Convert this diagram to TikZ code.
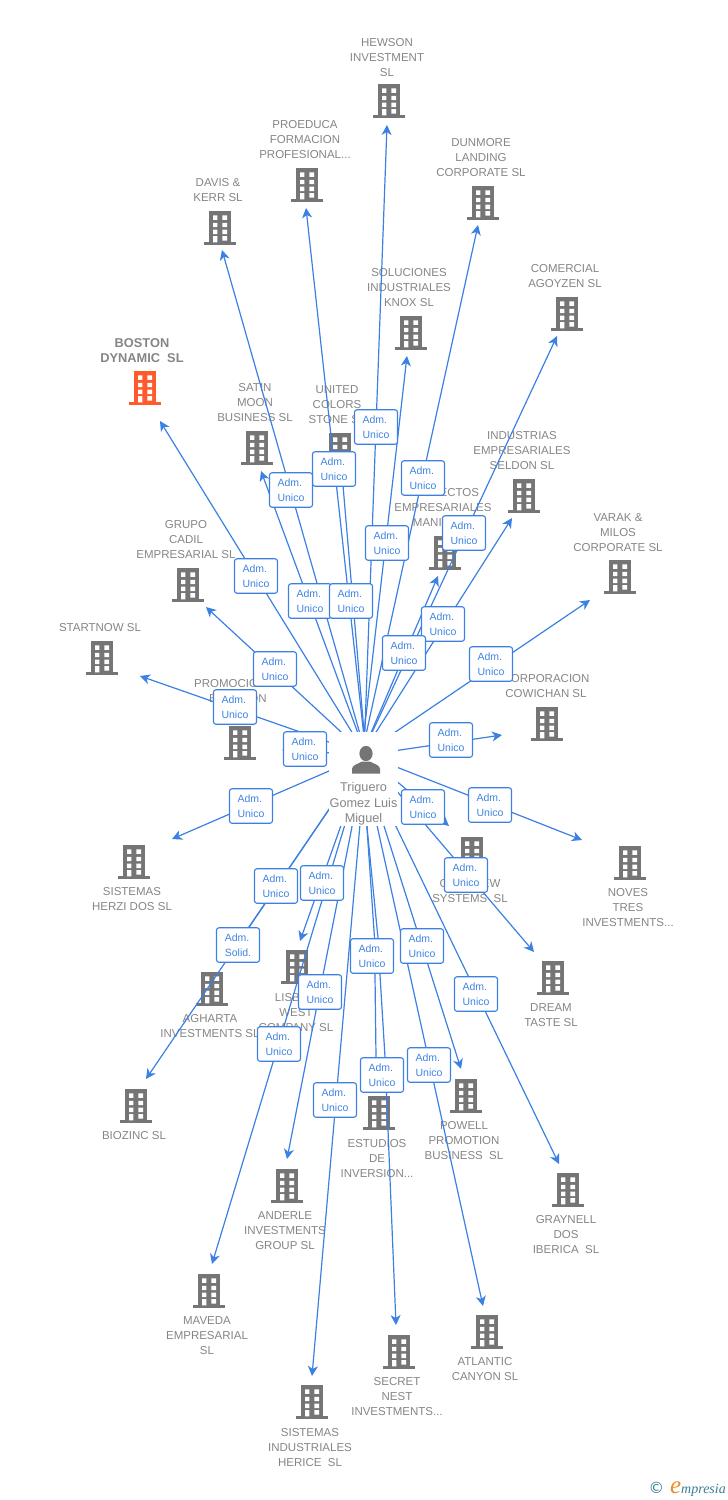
\documentclass[tikz,border=0pt]{standalone}
\usepackage{fontspec}
\setmainfont{Liberation Sans}
\newfontfamily\logofont{Liberation Serif}
\newfontfamily\symfont{DejaVu Sans}
\usetikzlibrary{arrows.meta}
\definecolor{gtext}{HTML}{858585}
\definecolor{gicon}{HTML}{757575}
\definecolor{orng}{HTML}{FF5A2B}
\definecolor{eblue}{HTML}{3B80E2}
\definecolor{btext}{HTML}{3F84E4}
\definecolor{logoteal}{HTML}{3B7C96}
\definecolor{logoorng}{HTML}{F08A24}
\pgfdeclarelayer{iconlayer}
\pgfdeclarelayer{hublayer}
\pgfdeclarelayer{boxlayer}
\pgfsetlayers{iconlayer,main,hublayer,boxlayer}
\tikzset{
  lbl/.style={text=gtext,font=\fontsize{11.5}{15}\selectfont,align=center,inner sep=0pt,yshift=-0.8pt},
  boldlbl/.style={lbl,font=\fontsize{12.8}{15}\bfseries\selectfont},
  bldbox/.style={minimum width=32pt,minimum height=34pt,inner sep=0pt},
  edge/.style={draw=eblue,line width=1.2pt,line join=round,-{Stealth[length=10pt,width=10pt,inset=3pt]}},
  admbox/.style={draw=eblue,fill=white,line width=1.1pt,rounded corners=2.5pt,minimum width=43pt,minimum height=34.5pt,inner sep=0pt,text=btext,align=left,font=\fontsize{10.5}{15}\selectfont},
  hubbox/.style={fill=white,minimum width=69pt,minimum height=94pt,inner sep=0pt},
}
% building: name, position, colour
\newcommand\bld[3]{%
  \begin{pgfonlayer}{iconlayer}
  \node[bldbox] (#1) at (#2) {};
  \begin{scope}[shift={(#2)}]
    \fill[#3] (-11,-17) rectangle (11,14.5);
    \fill[#3] (-16,14.2) rectangle (16,16.6);
    \fill[white] (-7,-12.7) rectangle (-2.6,-8.2) (2.4,-12.7) rectangle (7,-8.2)
      (-7,-5.2) rectangle (-2.6,-0.8) (2.4,-5.2) rectangle (7,-0.8)
      (-7,1.6) rectangle (-2.6,6) (2.4,1.6) rectangle (7,6)
      (-7,8.2) rectangle (-2.6,14.3) (2.4,8.2) rectangle (7,12.6);
  \end{scope}
  \end{pgfonlayer}}
% label: name, position, text
\newcommand\lab[3]{%
  \begin{pgfonlayer}{iconlayer}\node[lbl] (#1) at (#2) {#3};\end{pgfonlayer}}
% edge: [start], id, tip, box centre, second word of box text
\newcommand\adm[5][hubc]{%
  \coordinate (tip#2) at (#3);
  \begin{pgfonlayer}{boxlayer}\node[admbox] (box#2) at (#4) {Adm.\\#5};\end{pgfonlayer}
  \draw[edge] (#1) -- (tip#2);}
% edge with bends hidden behind the boxes: id, tip, box centre, bends
\newcommand\admbent[4]{%
  \coordinate (tip#1) at (#2);
  \begin{pgfonlayer}{boxlayer}\node[admbox] (box#1) at (#3) {Adm.\\Unico};\end{pgfonlayer}
  \draw[edge] (hubs) #4 -- (tip#1);}
\begin{document}
\begin{tikzpicture}[x=1pt,y=-1pt]
\useasboundingbox (0,0) rectangle (728,1500);
\coordinate (hubc) at (366,755);
\coordinate (hubu) at (364,755);
\coordinate (hubr) at (361.5,755);
\coordinate (hubs) at (366.8,825);

\bld{iHewson}{389,101}{gicon}\lab{lHewson}{387,56.5}{HEWSON\\INVESTMENT\\SL}
\bld{iProeduca}{307,185}{gicon}\lab{lProeduca}{305,139}{PROEDUCA\\FORMACION\\PROFESIONAL...}
\bld{iDavis}{220,228}{gicon}\lab{lDavis}{218,189.5}{DAVIS \&\\KERR SL}
\bld{iDunmore}{483,203}{gicon}\lab{lDunmore}{481,157}{DUNMORE\\LANDING\\CORPORATE SL}
\bld{iSoluciones}{411,333}{gicon}\lab{lSoluciones}{409,287}{SOLUCIONES\\INDUSTRIALES\\KNOX SL}
\bld{iComercial}{567,314}{gicon}\lab{lComercial}{565,275.5}{COMERCIAL\\AGOYZEN SL}
\bld{iBoston}{145,388}{orng}
\begin{pgfonlayer}{iconlayer}\node[boldlbl] (lBoston) at (142,349.5) {BOSTON\\DYNAMIC\ \ SL};\end{pgfonlayer}
\bld{iSatin}{257,448}{gicon}\lab{lSatin}{255,402}{SATIN\\MOON\\BUSINESS SL}
\bld{iUnited}{340,450}{gicon}\lab{lUnited}{337,404}{UNITED\\COLORS\\STONE SL}
\bld{iIndustrias}{524,496}{gicon}\lab{lIndustrias}{522,450}{INDUSTRIAS\\EMPRESARIALES\\SELDON SL}
\bld{iProyectos}{445,553}{gicon}\lab{lProyectos}{443,507}{PROYECTOS\\EMPRESARIALES\\MANILA SL}
\bld{iVarak}{620,577}{gicon}\lab{lVarak}{618,532}{VARAK \&\\MILOS\\CORPORATE SL}
\bld{iGrupo}{188,585}{gicon}\lab{lGrupo}{186,539}{GRUPO\\CADIL\\EMPRESARIAL SL}
\bld{iStartnow}{102,658}{gicon}\lab{lStartnow}{100,627}{STARTNOW SL}
\bld{iPromocion}{240,743}{gicon}\lab{lPromocion}{238,690.5}{PROMOCIONES\\BRANDON}
\bld{iCowichan}{547,724}{gicon}\lab{lCowichan}{546,685.5}{CORPORACION\\COWICHAN SL}
\bld{iHerzi}{134,862}{gicon}\lab{lHerzi}{132,898.5}{SISTEMAS\\HERZI DOS SL}
\bld{iGlenview}{472,854}{gicon}\lab{lGlenview}{470,890.5}{GLENVIEW\\SYSTEMS\ \ SL}
\bld{iNoves}{630,863}{gicon}\lab{lNoves}{628,907}{NOVES\\TRES\\INVESTMENTS...}
\bld{iDream}{553,978}{gicon}\lab{lDream}{551,1014.5}{DREAM\\TASTE SL}
\bld{iAgharta}{212,989}{gicon}\lab{lAgharta}{210,1025.5}{AGHARTA\\INVESTMENTS SL}
\bld{iLisbon}{297,967}{gicon}\lab{lLisbon}{296,1012}{LISBON\\WEST\\COMPANY SL}
\bld{iBiozinc}{136,1106}{gicon}\lab{lBiozinc}{134,1135}{BIOZINC SL}
\bld{iPowell}{466,1096}{gicon}\lab{lPowell}{464,1140}{POWELL\\PROMOTION\\BUSINESS\ \ SL}
\bld{iEstudios}{379,1113}{gicon}\lab{lEstudios}{377,1158}{ESTUDIOS\\DE\\INVERSION...}
\bld{iGraynell}{568,1190}{gicon}\lab{lGraynell}{566,1234}{GRAYNELL\\DOS\\IBERICA\ \ SL}
\bld{iAnderle}{287,1186}{gicon}\lab{lAnderle}{285,1230}{ANDERLE\\INVESTMENTS\\GROUP SL}
\bld{iMaveda}{209,1291}{gicon}\lab{lMaveda}{207,1335}{MAVEDA\\EMPRESARIAL\\SL}
\bld{iAtlantic}{487,1332}{gicon}\lab{lAtlantic}{485,1368.5}{ATLANTIC\\CANYON SL}
\bld{iSecret}{399,1352}{gicon}\lab{lSecret}{397,1396}{SECRET\\NEST\\INVESTMENTS...}
\bld{iIndustr}{312,1402}{gicon}\lab{lIndustr}{310,1447}{SISTEMAS\\INDUSTRIALES\\HERICE\ \ SL}

\adm[hubu]{Hewson}{387,125}{376,427}{Unico}
\adm{Proeduca}{306,208}{334,469}{Unico}
\adm{Davis}{222,250}{291,490}{Unico}
\adm[hubr]{Dunmore}{478,225}{423,478}{Unico}
\adm[hubr]{Soluciones}{407,356}{387,543}{Unico}
\adm[hubr]{Comercial}{557,336}{464,533}{Unico}
\adm{Boston}{160,421}{256,576}{Unico}
\adm{Satin}{261,471}{310,601}{Unico}
\adm{United}{341,462}{351,601}{Unico}
\adm[hubr]{Industrias}{512,518}{443,624}{Unico}
\adm[hubr]{Proyectos}{438,576}{404,653}{Unico}
\adm[hubr]{Varak}{590,600}{491,664}{Unico}
\adm{Cowichan}{502,735}{451,740}{Unico}
\adm{Grupo}{206,607}{275,669}{Unico}
\adm{Startnow}{140,676}{235,707}{Unico}
\adm{Promocion}{282,750}{305,749}{Unico}
\adm{Herzi}{172,839}{251,806}{Unico}
\adm{Glenview}{449,826}{423,807}{Unico}
\adm{Noves}{582,840}{490,805}{Unico}
\adm{Dream}{534,952}{466,875}{Unico}
\adm[hubr]{Graynell}{559,1164}{476,994}{Unico}
\adm[hubr]{Powell}{461,1069}{422,946}{Unico}
\adm[hubr]{Atlantic}{483,1306}{429,1065}{Unico}
\admbent{Secret}{396,1325}{372,956}{-- (378,938) -- (380,975) -- (385,1057) -- (386.5,1093)}
\admbent{Estudios}{377,1090}{382,1075}{-- (374.5,938) -- (375,975) -- (376,1057)}
\adm{Industr}{312,1376}{335,1100}{Unico}
\adm{Maveda}{212,1264}{279,1044}{Unico}
\adm{Anderle}{287,1159}{320,992}{Unico}
\adm{Lisbon}{300,941}{322,883}{Unico}
\adm{Agharta}{236,946}{276,886}{Unico}
\adm{Biozinc}{146,1079}{238,945}{Solid.}

\begin{pgfonlayer}{hublayer}
\node[hubbox] (hub) at (363.5,779) {};
\fill[gicon] (366,753.5) ellipse (6.6 and 7.6);
\fill[gicon] (352,773.5) -- (352,769) .. controls (352,765) and (358,764) .. (362,761.5) -- (370,761.5) .. controls (374,764) and (380,765) .. (380,769) -- (380,773.5) -- cycle;
\node[lbl,font=\fontsize{12.7}{15.3}\selectfont] (lHub) at (363.5,803) {Triguero\\Gomez Luis\\Miguel};
\end{pgfonlayer}

\node[inner sep=0pt,anchor=east,text=logoteal,font=\fontsize{14}{15}\logofont\itshape] (logo) at (726,1489) {{\symfont\fontsize{15.5}{15}\selectfont ©}\hspace{6pt}{\color{logoorng}\fontsize{25}{15}\selectfont e}mpresia};
\end{tikzpicture}
\end{document}
